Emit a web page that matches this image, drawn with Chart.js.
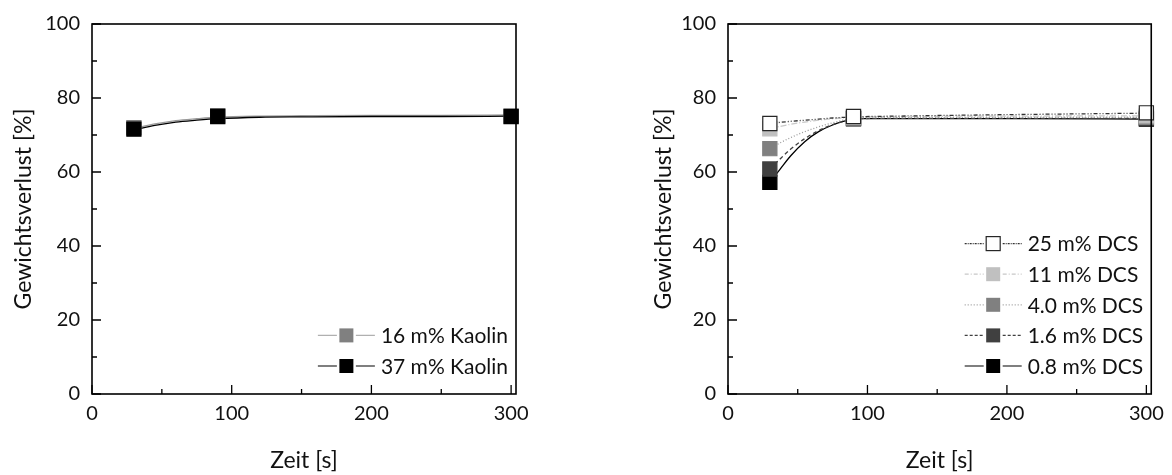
<!DOCTYPE html>
<html>
<head>
<meta charset="utf-8">
<script src="https://cdn.jsdelivr.net/npm/chart.js@4.4.1/dist/chart.umd.min.js"></script>
<style>
  html, body { margin: 0; padding: 0; background: #fff; }
  #wrap { position: relative; width: 1172px; height: 475px; }
  #kaolinChart { position: absolute; left: 0; top: 0; }
  #dcsChart { position: absolute; left: 640px; top: 0; }
</style>
</head>
<body>
<div id="wrap">
  <canvas id="kaolinChart" width="586" height="475"></canvas>
  <canvas id="dcsChart" width="532" height="475"></canvas>
</div>
<script>
const timeMeasured = [30, 90, 300];

const kaolin16 = [72.0, 75.2, 75.1];
const kaolin37 = [71.6, 75.0, 75.0];

const dcs25 = [73.1, 75.0, 76.0];
const dcs11 = [71.7, 74.8, 75.2];
const dcs4 = [66.3, 74.6, 74.8];
const dcs16 = [60.8, 74.5, 74.5];
const dcs08 = [57.2, 74.4, 74.3];

// --- Fitkurven ---
const timeFitKaolin = [30, 45, 60, 75, 90, 120, 150, 200, 250, 300];
const fitKaolin16 = [71.8, 73.0, 73.9, 74.4, 74.8, 75.1, 75.2, 75.3, 75.3, 75.4];
const fitKaolin37 = [71.4, 72.6, 73.5, 74.0, 74.4, 74.8, 74.9, 75.0, 75.0, 75.1];

const timeFitDcs = [30, 37, 45, 55, 65, 75, 85, 90, 120, 200, 300];
const fitDcs25 = [73.1, 73.4, 73.7, 74.0, 74.3, 74.6, 74.8, 74.9, 75.1, 75.5, 75.9];
const fitDcs11 = [71.7, 72.3, 72.9, 73.5, 74.0, 74.4, 74.7, 74.8, 75.0, 75.1, 75.2];
const fitDcs4 = [66.3, 67.8, 69.3, 70.9, 72.2, 73.3, 74.2, 74.6, 74.7, 74.8, 74.8];
const fitDcs16 = [60.8, 63.4, 66.2, 69.0, 71.2, 72.8, 73.9, 74.4, 74.5, 74.5, 74.5];
const fitDcs08 = [57.2, 60.6, 64.4, 68.2, 70.9, 72.7, 73.9, 74.4, 74.4, 74.4, 74.3];

// --- Achsen ---
const xMajorTicks = [0, 100, 200, 300];
const xMinorTicks = [50, 150, 250];
const yMajorTicks = [0, 20, 40, 60, 80, 100];
const yMinorTicks = [10, 30, 50, 70, 90];

const FONT = 'Lato';
const TEXT = '#111111';
Chart.defaults.font.family = FONT;
Chart.defaults.color = TEXT;

const toPts = (xs, ys) => xs.map((x, i) => ({ x: x, y: ys[i] }));

// Rahmen + nach innen zeigende Ticks
const frameTicks = {
  id: 'frameTicks',
  afterDatasetsDraw(chart) {
    const { ctx, chartArea: a, scales: { x, y } } = chart;
    ctx.save();
    ctx.strokeStyle = '#000';
    ctx.lineWidth = 1.6;
    ctx.strokeRect(a.left, a.top, a.right - a.left, a.bottom - a.top);
    ctx.lineWidth = 1.3;
    ctx.beginPath();
    const xt = (v, len) => { const px = x.getPixelForValue(v); ctx.moveTo(px, a.bottom); ctx.lineTo(px, a.bottom - len); };
    const yt = (v, len) => { const py = y.getPixelForValue(v); ctx.moveTo(a.left, py); ctx.lineTo(a.left + len, py); };
    xMajorTicks.forEach(v => xt(v, 9));
    xMinorTicks.forEach(v => xt(v, 5));
    yMajorTicks.forEach(v => yt(v, 9));
    yMinorTicks.forEach(v => yt(v, 5));
    ctx.stroke();
    ctx.restore();
  }
};

// Legende unten rechts im Plotbereich: Linie - Marker - Linie - Text
const curveLegend = {
  id: 'curveLegend',
  afterDraw(chart, args, opts) {
    const { ctx, chartArea: a } = chart;
    const items = opts.items || [];
    ctx.save();
    ctx.font = '21px ' + FONT;
    const textW = Math.max(...items.map(it => ctx.measureText(it.label).width));
    const sampleW = 57, gap = 6, rowH = 30.6;
    const x0 = a.right - 8 - textW - gap - sampleW;
    items.forEach((it, i) => {
      const yc = a.bottom - 28 - (items.length - 1 - i) * rowH;
      ctx.strokeStyle = it.line;
      ctx.lineWidth = 1.2;
      ctx.setLineDash(it.dash);
      ctx.beginPath();
      ctx.moveTo(x0, yc); ctx.lineTo(x0 + 19, yc);
      ctx.moveTo(x0 + 38, yc); ctx.lineTo(x0 + sampleW, yc);
      ctx.stroke();
      ctx.setLineDash([]);
      ctx.fillStyle = it.fill;
      ctx.fillRect(x0 + 21.5, yc - 7, 14, 14);
      if (it.edge) {
        ctx.strokeStyle = it.edge;
        ctx.lineWidth = 1.2;
        ctx.strokeRect(x0 + 21.5, yc - 7, 14, 14);
      }
      ctx.fillStyle = TEXT;
      ctx.textAlign = 'left';
      ctx.textBaseline = 'middle';
      ctx.fillText(it.label, x0 + sampleW + gap, yc + 1);
    });
    ctx.restore();
  }
};

function markerSet(label, ys, fill, edge, order) {
  return {
    label: label,
    data: toPts(timeMeasured, ys),
    showLine: false,
    pointStyle: 'rect',
    pointRadius: 10,
    pointBackgroundColor: fill,
    pointBorderColor: edge,
    pointBorderWidth: 1.2,
    clip: false,
    order: order
  };
}

function fitSet(xs, ys, color, dash, order) {
  return {
    data: toPts(xs, ys),
    borderColor: color,
    borderWidth: 1.3,
    borderDash: dash,
    pointRadius: 0,
    cubicInterpolationMode: 'monotone',
    fill: false,
    order: order
  };
}

function makeOptions(yWidth, padRight, legendItems) {
  const tickFont = { family: FONT, size: 20 };
  const titleFont = { family: FONT, size: 23 };
  return {
    responsive: false,
    animation: false,
    layout: { padding: { left: 0, top: 20, right: padRight, bottom: 0 } },
    plugins: {
      legend: { display: false },
      tooltip: { enabled: false },
      curveLegend: { items: legendItems }
    },
    scales: {
      x: {
        type: 'linear',
        min: 0,
        max: 303.5,
        afterBuildTicks: s => { s.ticks = xMajorTicks.map(v => ({ value: v })); },
        afterFit: s => { s.height = 81; },
        grid: { display: false, drawTicks: false },
        border: { display: false },
        ticks: { font: tickFont, color: TEXT, padding: 8, maxRotation: 0 },
        title: { display: true, text: 'Zeit [s]', font: titleFont, color: TEXT, padding: { top: 0, bottom: 1 } }
      },
      y: {
        min: 0,
        max: 100,
        afterBuildTicks: s => { s.ticks = yMajorTicks.map(v => ({ value: v })); },
        afterFit: s => { s.width = yWidth; },
        grid: { display: false, drawTicks: false },
        border: { display: false },
        ticks: { font: tickFont, color: TEXT, padding: 12 },
        title: { display: true, text: 'Gewichtsverlust [%]', font: titleFont, color: TEXT, padding: { top: 10, bottom: 0 } }
      }
    }
  };
}

// --- linkes Diagramm: Kaolin ---
new Chart(document.getElementById('kaolinChart'), {
  type: 'line',
  data: {
    datasets: [
      markerSet('37 m% Kaolin', kaolin37, '#000000', '#000000', 1),
      markerSet('16 m% Kaolin', kaolin16, '#808080', '#808080', 2),
      fitSet(timeFitKaolin, fitKaolin37, '#000000', [], 10),
      fitSet(timeFitKaolin, fitKaolin16, '#9a9a9a', [], 11)
    ]
  },
  options: makeOptions(92, 70, [
    { label: '16 m% Kaolin', fill: '#808080', line: '#b0b0b0', dash: [] },
    { label: '37 m% Kaolin', fill: '#000000', line: '#000000', dash: [] }
  ]),
  plugins: [frameTicks, curveLegend]
});

// --- rechtes Diagramm: DCS ---
new Chart(document.getElementById('dcsChart'), {
  type: 'line',
  data: {
    datasets: [
      markerSet('25 m% DCS', dcs25, '#ffffff', '#262626', 1),
      markerSet('11 m% DCS', dcs11, '#c0c0c0', '#c0c0c0', 2),
      markerSet('4.0 m% DCS', dcs4, '#808080', '#808080', 3),
      markerSet('1.6 m% DCS', dcs16, '#404040', '#404040', 4),
      markerSet('0.8 m% DCS', dcs08, '#000000', '#000000', 5),
      fitSet(timeFitDcs, fitDcs25, '#333333', [4, 2, 1, 2, 1, 2], 10),
      fitSet(timeFitDcs, fitDcs11, '#c8c8c8', [6, 2, 1, 2], 11),
      fitSet(timeFitDcs, fitDcs4, '#9a9a9a', [1, 2], 12),
      fitSet(timeFitDcs, fitDcs16, '#404040', [4, 3], 13),
      fitSet(timeFitDcs, fitDcs08, '#000000', [], 14)
    ]
  },
  options: makeOptions(88, 20, [
    { label: '25 m% DCS', fill: '#ffffff', edge: '#262626', line: '#333333', dash: [2, 1, 1, 1] },
    { label: '11 m% DCS', fill: '#c0c0c0', line: '#c8c8c8', dash: [4, 2, 1, 2] },
    { label: '4.0 m% DCS', fill: '#808080', line: '#9a9a9a', dash: [1, 2] },
    { label: '1.6 m% DCS', fill: '#404040', line: '#404040', dash: [3, 2] },
    { label: '0.8 m% DCS', fill: '#000000', line: '#000000', dash: [] }
  ]),
  plugins: [frameTicks, curveLegend]
});
</script>
</body>
</html>
